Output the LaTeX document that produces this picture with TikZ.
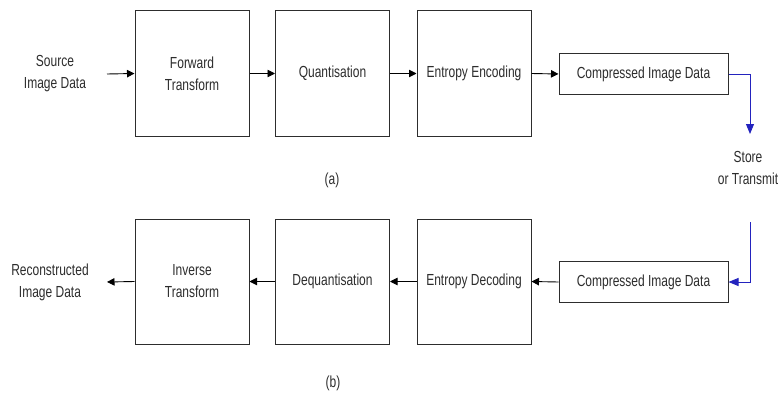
\documentclass[tikz,border=0pt]{standalone}
\usepackage{fontspec}
\setmainfont{Liberation Sans}[FakeStretch=0.75]
\usetikzlibrary{arrows.meta}
\definecolor{ink}{RGB}{45,45,45}
\definecolor{linkblue}{RGB}{35,35,190}
\begin{document}
\begin{tikzpicture}[x=1pt,y=-1pt,
  every node/.style={font=\fontsize{16}{22}\selectfont, text=ink},
  blockbox/.style={draw=ink, line width=1pt, fill=white, minimum width=114pt, minimum height=125pt, inner sep=0pt, align=center},
  databox/.style={draw=ink, line width=1pt, fill=white, minimum width=169pt, minimum height=41pt, inner sep=0pt},
  label/.style={align=center, inner sep=1pt},
  flow/.style={draw=black, line width=0.9pt, -{Triangle[length=7.5pt,width=7.5pt]}},
  blueflow/.style={draw=linkblue, line width=0.9pt, -{Triangle[length=10pt,width=8pt]}},
  blueline/.style={draw=linkblue, line width=0.9pt}
]
\useasboundingbox (0,0) rectangle (784,396);
% top row
\node[label] (src) at (55,74) {Source\\Image Data};
\coordinate (srcout) at (107,74);
\node[blockbox] (fwd) at (192,73.5) {Forward\\Transform};
\node[blockbox] (quant) at (332.5,73.5) {Quantisation};
\node[blockbox] (enc) at (474,73.5) {Entropy Encoding};
\node[databox] (cid1) at (643.5,74) {Compressed Image Data};
\node[label] (a) at (332,180) {(a)};
% store or transmit
\node[label] (store) at (748,168) {Store\\or Transmit};
\coordinate (bend1) at (750,74);
\coordinate (tip1) at (750,134);
\coordinate (start2) at (750,222);
\coordinate (bend2) at (750,282);
% bottom row
\node[label] (rec) at (50,282) {Reconstructed\\Image Data};
\coordinate (recin) at (107,282);
\node[blockbox] (inv) at (192,281.5) {Inverse\\Transform};
\node[blockbox] (dequant) at (332.5,281.5) {Dequantisation};
\node[blockbox] (dec) at (474,281.5) {Entropy Decoding};
\node[databox] (cid2) at (643.5,282) {Compressed Image Data};
\node[label] (b) at (333,383) {(b)};
% connectors
\draw[flow] (srcout) -- (fwd.west);
\draw[flow] (fwd.east) -- (quant.west);
\draw[flow] (quant.east) -- (enc.west);
\draw[flow] (enc.east) -- (cid1.west);
\draw[blueline] (cid1.east) -- (bend1);
\draw[blueflow] (bend1) -- (tip1);
\draw[blueflow] (start2) -- (bend2) -- (cid2.east);
\draw[flow] (cid2.west) -- (dec.east);
\draw[flow] (dec.west) -- (dequant.east);
\draw[flow] (dequant.west) -- (inv.east);
\draw[flow] (inv.west) -- (recin);
\end{tikzpicture}
\end{document}
